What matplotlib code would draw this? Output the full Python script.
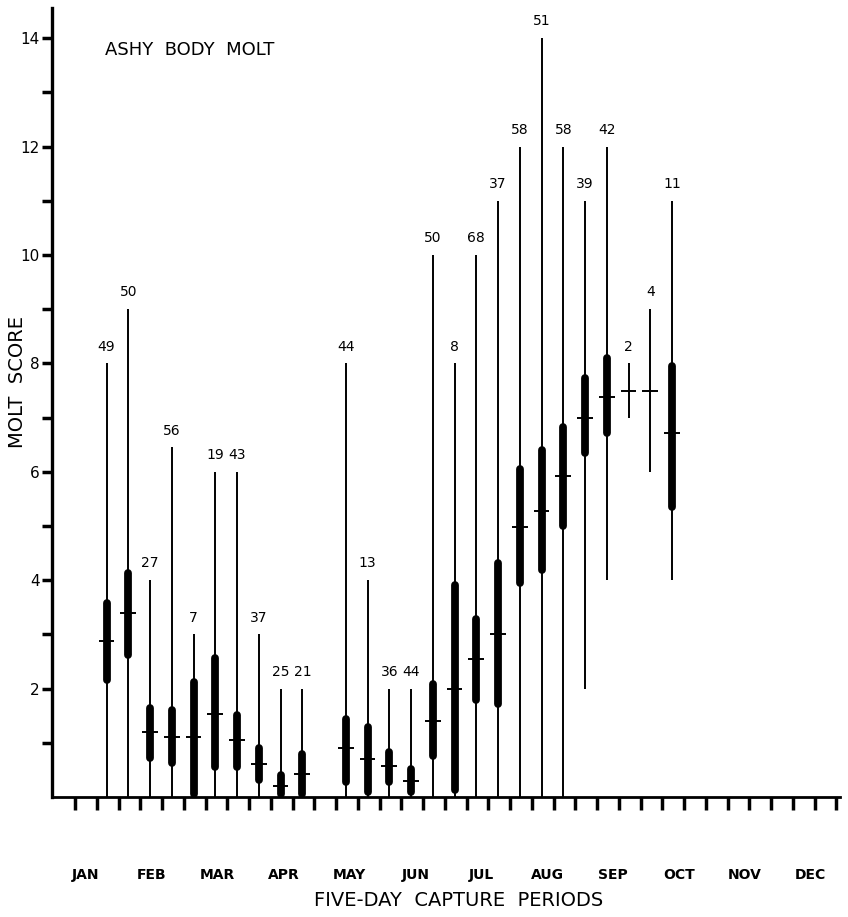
import matplotlib.pyplot as plt
import numpy as np

plt.rcParams['font.family'] = ['DejaVu Sans']

# NOTE: data (one entry per capture period)
period = [1, 2, 3, 4, 5, 6, 7, 8, 9, 10, 12, 13, 14, 15, 16, 17, 18, 19, 20, 21, 22, 23, 24, 25, 26, 27]
n_birds = [49, 50, 27, 56, 7, 19, 43, 37, 25, 21, 44, 13, 36, 44, 50, 8, 68, 37, 58, 51, 58, 39, 42, 2, 4, 11]
score_max = [8, 9, 4, 6.45, 3, 6, 6, 3, 2, 2, 8, 4, 2, 2, 10, 8, 10, 11, 12, 14, 12, 11, 12, 8, 9, 11]
score_min = [0, 0, 0, 0, 0, 0, 0, 0, 0, 0, 0, 0, 0, 0, 0, 0, 0, 0, 0, 0, 0, 2, 4, 7, 6, 4]
band_hi = [3.58, 4.13, 1.64, 1.61, 2.12, 2.56, 1.51, 0.9, 0.41, 0.79, 1.44, 1.29, 0.83, 0.52,
           2.08, 3.91, 3.28, 4.32, 6.05, 6.4, 6.83, 7.73, 8.1, np.nan, np.nan, 7.95]
band_lo = [2.16, 2.62, 0.72, 0.63, 0.05, 0.55, 0.55, 0.31, 0.05, 0.05, 0.28, 0.09, 0.28, 0.09,
           0.76, 0.13, 1.79, 1.72, 3.95, 4.19, 5.0, 6.35, 6.71, np.nan, np.nan, 5.35]
score_mean = [2.88, 3.39, 1.2, 1.1, 1.1, 1.53, 1.05, 0.61, 0.2, 0.42, 0.9, 0.7, 0.57, 0.3,
              1.4, 2.0, 2.55, 3.0, 4.98, 5.28, 5.92, 7.0, 7.38, 7.5, 7.5, 6.71]
months = ["JAN", "FEB", "MAR", "APR", "MAY", "JUN", "JUL", "AUG", "SEP", "OCT", "NOV", "DEC"]

x = np.array(period) + 0.45

fig = plt.figure(figsize=(8.48, 9.17), dpi=100)
ax = fig.add_axes([0.0613, 0.1309, 0.9287, 0.8605])

# whiskers (range), thick band, mean tick
ax.vlines(x, score_min, score_max, color='black', linewidth=1.4)
ax.vlines(x, band_lo, band_hi, color='black', linewidth=5.6, capstyle='round')
ax.hlines(score_mean, x - 0.36, x + 0.36, color='black', linewidth=1.4)

for xi, top, n in zip(x, score_max, n_birds):
    ax.text(xi, top + 0.18, str(n), ha='center', va='bottom', fontsize=10)

ax.set_xlim(-1.06, 35.15)
ax.set_ylim(0, 14.56)
ax.set_xticks(np.arange(36))
ax.set_xticklabels([])
ax.set_yticks(np.arange(1, 15))
ax.set_yticklabels([str(v) if v % 2 == 0 else "" for v in range(1, 15)], fontsize=11)
ax.tick_params(axis='x', direction='out', length=9, width=2.5, color='black')
ax.tick_params(axis='y', direction='out', length=7, width=2.5, color='black', pad=2)

for s in ['top', 'right']:
    ax.spines[s].set_visible(False)
ax.spines['left'].set_linewidth(2.4)
ax.spines['bottom'].set_linewidth(2.0)

for k, m in enumerate(months):
    ax.text(3.03 * k + 0.5, -0.099, m, transform=ax.get_xaxis_transform(),
            ha='center', va='center', fontsize=10, fontweight='bold')

ax.text(0.067, 0.947, "ASHY  BODY  MOLT", transform=ax.transAxes,
        ha='left', va='center', fontsize=13)
fig.text(18 / 848, 1 - 382 / 917, "MOLT  SCORE", rotation=90,
         ha='center', va='center', fontsize=14)
fig.text(459 / 848, 1 - 900 / 917, "FIVE-DAY  CAPTURE  PERIODS",
         ha='center', va='center', fontsize=14)

plt.savefig("out.png", dpi=100)
